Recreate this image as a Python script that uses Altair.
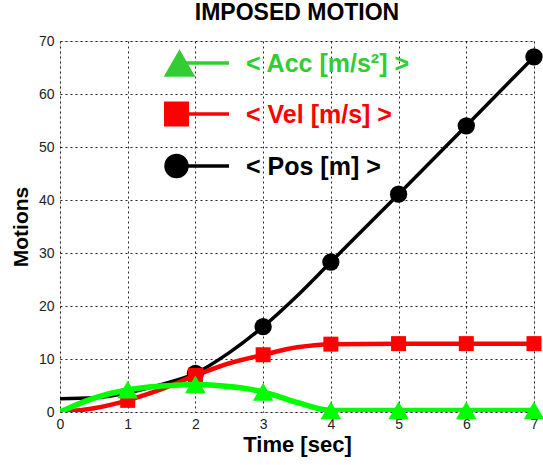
import altair as alt
import pandas as pd

# ---- data ----
time = [0, 0.5, 1, 1.5, 2, 2.5, 3, 3.5, 4, 5, 6, 7]
pos = [2.5, 2.7, 3.6, 5.2, 7.3, 11.2, 16.1, 21.9, 28.3, 41.1, 54.0, 67.0]
vel = [0.0, 0.7, 2.2, 4.3, 6.9, 9.2, 10.8, 12.2, 12.8, 12.9, 12.9, 12.9]
acc = [0.0, 2.6, 4.2, 4.9, 5.2, 4.8, 3.8, 1.8, 0.3, 0.3, 0.3, 0.3]

marker_times = {"Pos": [2, 3, 4, 5, 6, 7],
                "Vel": [1, 2, 3, 4, 5, 6, 7],
                "Acc": [1, 2, 3, 4, 5, 6, 7]}

series_order = ["Pos", "Vel", "Acc"]          # drawing order (Acc on top)
legend_labels = {"Acc": "< Acc [m/s²] >", "Vel": "< Vel [m/s] >", "Pos": "< Pos [m] >"}
x_ticks = [0, 1, 2, 3, 4, 5, 6, 7]
y_ticks = [0, 10, 20, 30, 40, 50, 60, 70]

# ---- styles ----
FONT = "Liberation Sans"
line_color = {"Pos": "#000000", "Vel": "#FF0000", "Acc": "#00FF00"}
legend_color = {"Pos": "#000000", "Vel": "#FF0000", "Acc": "#33CC33"}
line_width = {"Pos": 3.5, "Vel": 4.5, "Acc": 5.5}
marker_shape = {"Pos": "circle", "Vel": "square", "Acc": "triangle-up"}
marker_size = {"Pos": 300, "Vel": 225, "Acc": 420}
legend_size = {"Pos": 600, "Vel": 625, "Acc": 1000}

values = {"Pos": pos, "Vel": vel, "Acc": acc}

x_enc = alt.X("time:Q",
              scale=alt.Scale(domain=[0, 7], nice=False, zero=False),
              axis=alt.Axis(values=x_ticks, title="Time [sec]", format="d",
                            labelFont=FONT, labelFontSize=14, labelColor="#222222",
                            titleFont=FONT, titleFontSize=22, titleFontWeight="bold",
                            titleColor="#000000", titlePadding=3, labelPadding=5,
                            ticks=False, tickSize=0, domain=False,
                            grid=True, gridColor="#000000", gridDash=[2, 3],
                            gridWidth=1, gridOpacity=0.85, labelFlush=False))
y_enc = alt.Y("value:Q",
              scale=alt.Scale(domain=[0, 70], nice=False),
              axis=alt.Axis(values=y_ticks, title="Motions",
                            labelFont=FONT, labelFontSize=14, labelColor="#222222",
                            titleFont=FONT, titleFontSize=21, titleFontWeight="bold",
                            titleColor="#000000", titlePadding=7, labelPadding=6,
                            ticks=False, tickSize=0, domain=False,
                            grid=True, gridColor="#000000", gridDash=[2, 3],
                            gridWidth=1, gridOpacity=0.85, labelFlush=False))

layers = []
for s in series_order:
    df = pd.DataFrame({"time": time, "value": values[s]})
    mk = df[df["time"].isin(marker_times[s])]
    layers.append(
        alt.Chart(df).mark_line(interpolate="monotone", color=line_color[s],
                                strokeWidth=line_width[s], clip=True)
        .encode(x=x_enc, y=y_enc)
    )
    layers.append(
        alt.Chart(mk).mark_point(shape=marker_shape[s], filled=True, opacity=1,
                                 color=line_color[s], size=marker_size[s])
        .encode(x=x_enc, y=y_enc)
    )

# ---- in-plot legend (decoration) ----
legend_rows = ["Acc", "Vel", "Pos"]
row_y = {"Acc": 22, "Vel": 73, "Pos": 125}
sym_x = {"Acc": 119.5, "Vel": 116.5, "Pos": 116.5}
for s in legend_rows:
    ld = pd.DataFrame({"label": [legend_labels[s]]})
    layers.append(
        alt.Chart(ld).mark_rule(color=legend_color[s], strokeWidth=3.5)
        .encode(x=alt.value(sym_x[s]), x2=alt.value(169), y=alt.value(row_y[s]))
    )
    layers.append(
        alt.Chart(ld).mark_point(shape=marker_shape[s], filled=True, opacity=1,
                                 color=legend_color[s], size=legend_size[s])
        .encode(x=alt.value(sym_x[s]), y=alt.value(row_y[s]))
    )
    layers.append(
        alt.Chart(ld).mark_text(align="left", baseline="middle", font=FONT,
                                fontSize=25, fontWeight="bold", color=legend_color[s])
        .encode(x=alt.value(186), y=alt.value(row_y[s] + 1), text="label:N")
    )

chart = alt.layer(*layers).properties(
    width=474, height=371,
    title=alt.TitleParams("IMPOSED MOTION", font=FONT, fontSize=23,
                          fontWeight="bold", color="#000000", anchor="middle",
                          offset=9),
    autosize=alt.AutoSizeParams(type="none"),
    padding={"left": 60, "top": 41, "right": 9, "bottom": 53},
).configure_view(stroke="#666666", strokeWidth=1
).configure(background="#ffffff")

chart.save("out.html", embed_options={"renderer": "svg", "actions": False})
